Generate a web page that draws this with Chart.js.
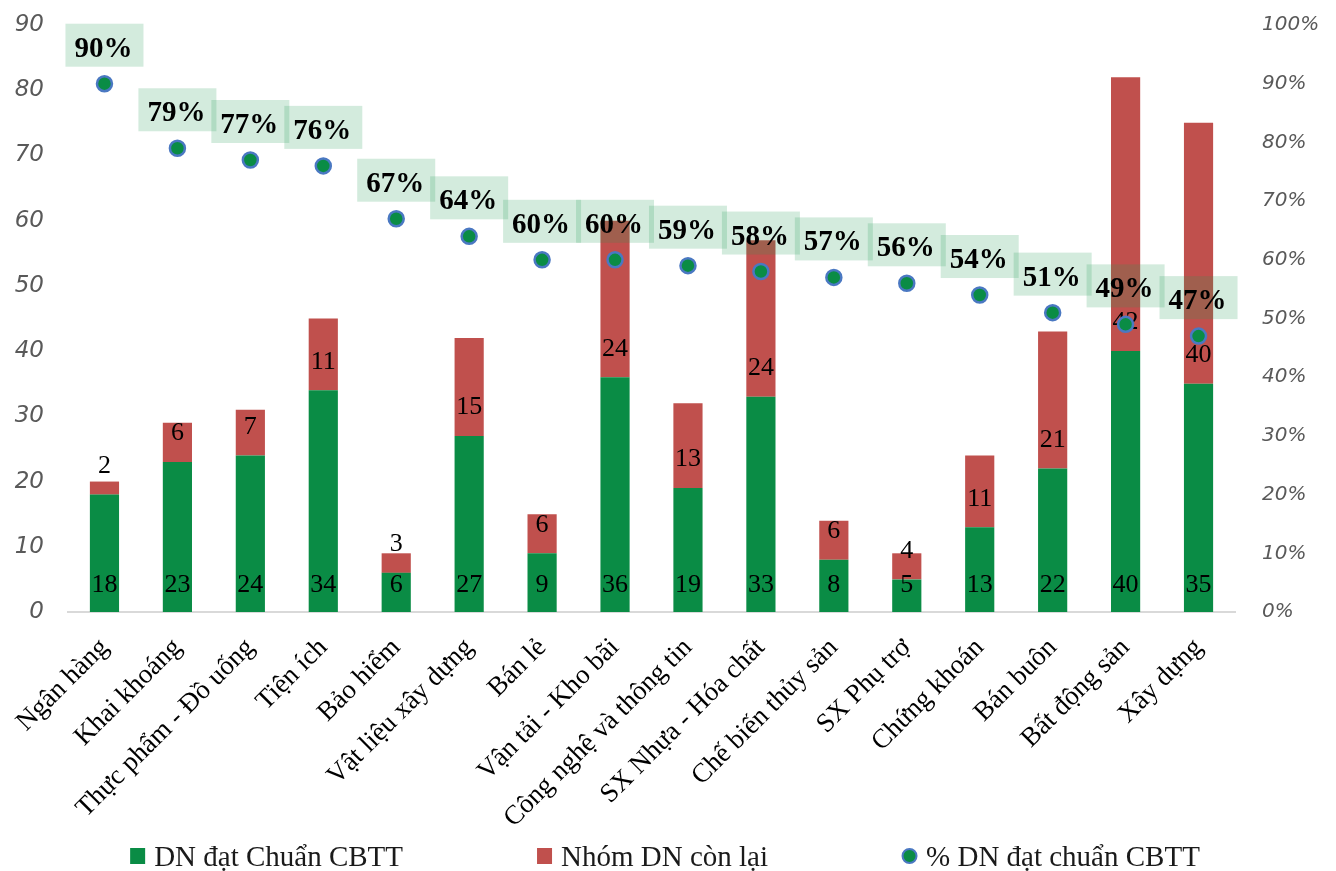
<!DOCTYPE html>
<html lang="vi">
<head>
<meta charset="utf-8">
<title>Tỷ lệ DN đạt chuẩn CBTT theo ngành</title>
<script src="https://cdn.jsdelivr.net/npm/chart.js@4.4.1/dist/chart.umd.min.js"></script>
<style>
  html, body { margin: 0; padding: 0; background: #ffffff; }
  #wrap { width: 1336px; height: 871px; position: relative; }
</style>
</head>
<body>
<div id="wrap"><canvas id="chart"></canvas></div>
<script>
// Ngành
const categories = [
  'Ngân hàng', 'Khai khoáng', 'Thực phẩm - Đồ uống', 'Tiện ích', 'Bảo hiểm',
  'Vật liệu xây dựng', 'Bán lẻ', 'Vận tải - Kho bãi', 'Công nghệ và thông tin',
  'SX Nhựa - Hóa chất', 'Chế biến thủy sản', 'SX Phụ trợ', 'Chứng khoán',
  'Bán buôn', 'Bất động sản', 'Xây dựng'
];
// Số DN đạt chuẩn CBTT
const reachedCounts = [18, 23, 24, 34, 6, 27, 9, 36, 19, 33, 8, 5, 13, 22, 40, 35];
// Số DN còn lại
const remainingCounts = [2, 6, 7, 11, 3, 15, 6, 24, 13, 24, 6, 4, 11, 21, 42, 40];
// % DN đạt chuẩn CBTT
const reachedShare = [90, 79, 77, 76, 67, 64, 60, 60, 59, 58, 57, 56, 54, 51, 49, 47];
// Trục trái (số DN) và trục phải (%)
const countTicks = [0, 10, 20, 30, 40, 50, 60, 70, 80, 90];
const shareTicks = [0, 10, 20, 30, 40, 50, 60, 70, 80, 90, 100];

const seriesNames = ['DN đạt Chuẩn CBTT', 'Nhóm DN còn lại', '% DN đạt chuẩn CBTT'];

const GREEN = '#0a8c45';
const RED = '#c0504d';
const DOT_BORDER = '#4a78c2';
const SERIF = '"Liberation Serif", "Times New Roman", serif';

// Nhãn số trên cột: phần xanh ở đáy cột, phần đỏ ngay trên đáy đoạn đỏ
const barValueLabels = {
  id: 'barValueLabels',
  afterDatasetDraw(chart, args) {
    const meta = args.meta;
    if (meta.type !== 'bar') return;
    const ctx = chart.ctx;
    const values = args.index === 0 ? reachedCounts : remainingCounts;
    const yZero = chart.scales.y.getPixelForValue(0);
    ctx.save();
    ctx.font = '26px ' + SERIF;
    ctx.fillStyle = '#000000';
    ctx.textAlign = 'center';
    ctx.textBaseline = 'middle';
    meta.data.forEach((bar, i) => {
      const y = args.index === 0 ? yZero - 27 : bar.base - 28.5;
      ctx.fillText(String(values[i]), bar.x, y);
    });
    ctx.restore();
  }
};

// Nhãn % trong ô nền xanh nhạt phía trên mỗi điểm
const shareLabels = {
  id: 'shareLabels',
  afterDatasetsDraw(chart) {
    const meta = chart.getDatasetMeta(2);
    const ctx = chart.ctx;
    ctx.save();
    ctx.font = 'bold 29px ' + SERIF;
    ctx.textAlign = 'center';
    ctx.textBaseline = 'alphabetic';
    meta.data.forEach((pt, i) => {
      const w = 78, h = 43;
      ctx.fillStyle = 'rgba(35,155,85,0.2)';
      ctx.fillRect(pt.x - w / 2, pt.y - 60, w, h);
      ctx.fillStyle = '#000000';
      ctx.fillText(reachedShare[i] + '%', pt.x - 1, pt.y - 27);
    });
    ctx.restore();
  }
};

// Chú giải ở cuối biểu đồ
const bottomLegend = {
  id: 'bottomLegend',
  afterDraw(chart) {
    const ctx = chart.ctx;
    ctx.save();
    ctx.font = '29px ' + SERIF;
    ctx.textBaseline = 'alphabetic';
    ctx.textAlign = 'left';
    const gap = 134, markW = 15, markGap = 9;
    const widths = seriesNames.map(t => ctx.measureText(t).width);
    const total = widths.reduce((s, w) => s + w + markW + markGap, 0) + gap * (widths.length - 1);
    let x = chart.width / 2 - total / 2 - 3;
    const cy = 856, baseline = 866;
    seriesNames.forEach((t, i) => {
      if (i < 2) {
        ctx.fillStyle = i === 0 ? GREEN : RED;
        ctx.fillRect(x, cy - 8, markW, 16);
      } else {
        ctx.beginPath();
        ctx.arc(x + markW / 2, cy, 7, 0, Math.PI * 2);
        ctx.fillStyle = GREEN;
        ctx.fill();
        ctx.lineWidth = 2;
        ctx.strokeStyle = DOT_BORDER;
        ctx.stroke();
      }
      ctx.fillStyle = '#1a1a1a';
      ctx.fillText(t, x + markW + markGap, baseline);
      x += markW + markGap + widths[i] + gap;
    });
    ctx.restore();
  }
};

new Chart(document.getElementById('chart'), {
  data: {
    labels: categories,
    datasets: [
      {
        type: 'bar',
        label: seriesNames[0],
        data: reachedCounts,
        backgroundColor: GREEN,
        stack: 'dn',
        yAxisID: 'y',
        order: 1,
        categoryPercentage: 0.8,
        barPercentage: 0.5
      },
      {
        type: 'bar',
        label: seriesNames[1],
        data: remainingCounts,
        backgroundColor: RED,
        stack: 'dn',
        yAxisID: 'y',
        order: 2,
        categoryPercentage: 0.8,
        barPercentage: 0.5
      },
      {
        type: 'line',
        label: seriesNames[2],
        data: reachedShare.map(v => v / 100),
        yAxisID: 'y1',
        showLine: false,
        order: 0,
        pointRadius: 7.5,
        pointBorderWidth: 2.5,
        pointBackgroundColor: GREEN,
        pointBorderColor: DOT_BORDER
      }
    ]
  },
  options: {
    responsive: true,
    maintainAspectRatio: false,
    animation: false,
    devicePixelRatio: 1,
    layout: { padding: { top: 25, left: 0, right: 0, bottom: 0 } },
    plugins: {
      legend: { display: false },
      tooltip: { enabled: false }
    },
    scales: {
      x: {
        stacked: true,
        grid: { display: false, drawTicks: false },
        border: { display: true, color: '#d9d9d9', width: 2 },
        ticks: {
          autoSkip: false,
          minRotation: 45,
          maxRotation: 45,
          padding: 20,
          color: '#000000',
          font: { family: SERIF, size: 27 }
        },
        afterFit(scale) {
          scale.height = 259;
          scale.paddingLeft = 0;
          scale.paddingRight = 0;
        }
      },
      y: {
        position: 'left',
        stacked: true,
        min: countTicks[0],
        max: countTicks[countTicks.length - 1],
        grid: { display: false, drawTicks: false },
        border: { display: false },
        afterBuildTicks(scale) {
          scale.ticks = countTicks.map(v => ({ value: v }));
        },
        ticks: {
          padding: 24,
          color: '#595959',
          font: { family: '"DejaVu Sans", Verdana, sans-serif', size: 23, style: 'italic' }
        },
        afterFit(scale) {
          scale.width = 68;
          scale.paddingTop = 0;
          scale.paddingBottom = 0;
        }
      },
      y1: {
        position: 'right',
        min: 0,
        max: 1,
        grid: { display: false, drawTicks: false },
        border: { display: false },
        afterBuildTicks(scale) {
          scale.ticks = shareTicks.map(v => ({ value: v / 100 }));
        },
        ticks: {
          padding: 27,
          color: '#595959',
          font: { family: '"DejaVu Sans", Verdana, sans-serif', size: 20, style: 'italic' },
          callback: v => Math.round(v * 100) + '%'
        },
        afterFit(scale) {
          scale.width = 101;
          scale.paddingTop = 0;
          scale.paddingBottom = 0;
        }
      }
    }
  },
  plugins: [barValueLabels, shareLabels, bottomLegend]
});
</script>
</body>
</html>
